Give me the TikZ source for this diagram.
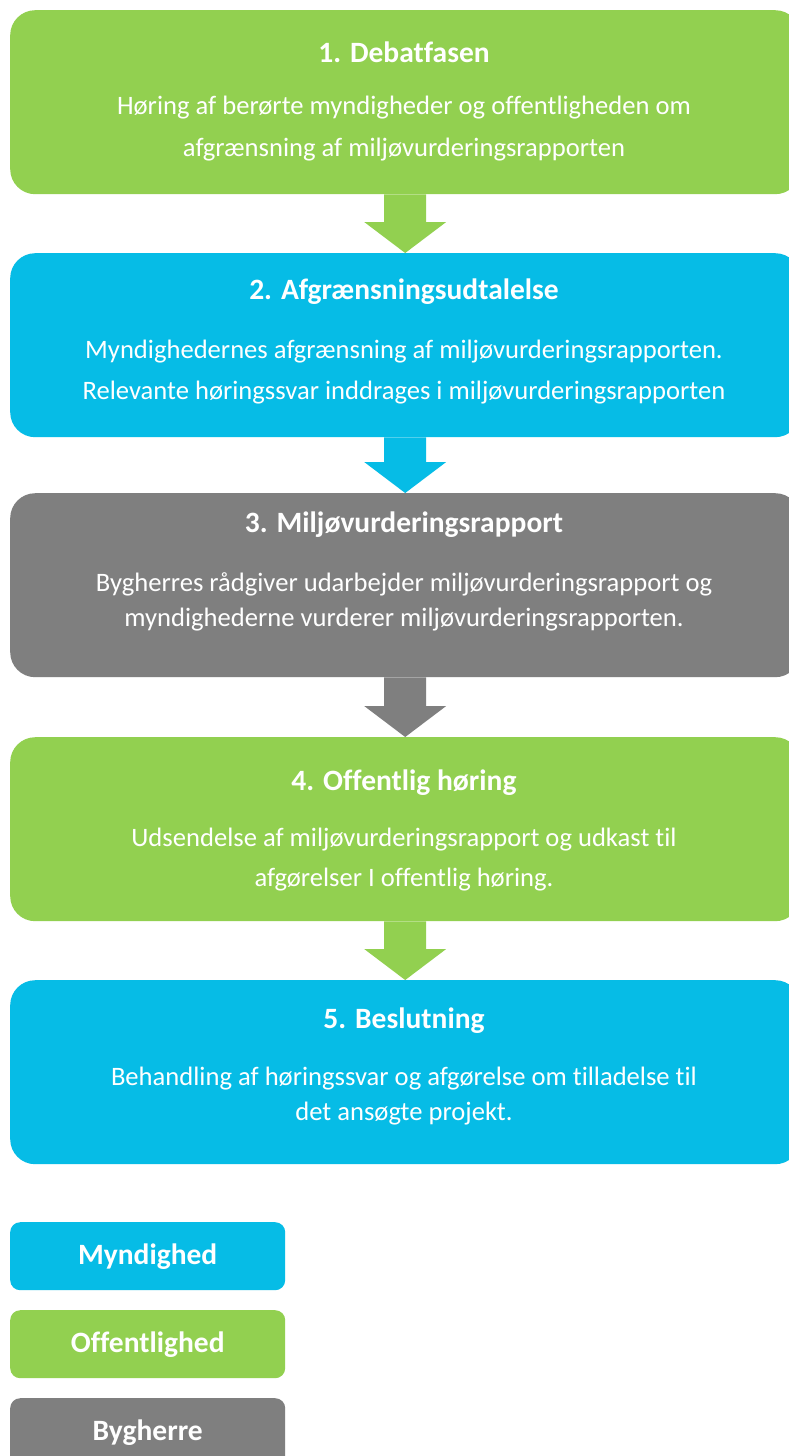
\documentclass[tikz,border=0pt]{standalone}
\usepackage{fontspec}
\setmainfont{Carlito}[Ligatures=NoCommon]
\usetikzlibrary{calc}
\definecolor{grn}{RGB}{146,208,80}
\definecolor{blu}{RGB}{6,188,230}
\definecolor{gry}{RGB}{127,127,127}
\tikzset{
  stage/.style={rectangle, rounded corners=25pt, minimum width=790pt, minimum height=184pt, anchor=north west, inner sep=0pt},
  legendbox/.style={rectangle, rounded corners=10pt, minimum width=275pt, minimum height=68pt, anchor=north west, inner sep=0pt, text=white, font=\bfseries\fontsize{29.5}{34}\selectfont},
  ttl/.style={text=white, font=\bfseries\fontsize{29.5}{34}\selectfont, inner sep=0pt},
  bdy/.style={text=white, font=\fontsize{26.6}{31}\selectfont, inner sep=0pt},
}
\begin{document}
\begin{tikzpicture}[x=1pt,y=1pt]
\useasboundingbox (0,0) rectangle (789,-1456);
\clip (0,0) rectangle (789,-1456);
\fill[white] (0,0) rectangle (789,-1456);
% stages
\node[stage, fill=grn] (b1) at (10,-10) {};
\node[stage, fill=blu] (b2) at (10,-253) {};
\node[stage, fill=gry] (b3) at (10,-493) {};
\node[stage, fill=grn] (b4) at (10,-737) {};
\node[stage, fill=blu] (b5) at (10,-980) {};
% texts
\node[ttl] (t1) at (404,-52) {1. Debatfasen};
\node[bdy] (l1a) at (404,-108) {Høring af berørte myndigheder og offentligheden om};
\node[bdy] (l1b) at (404,-150) {afgrænsning af miljøvurderingsrapporten};
\node[ttl] (t2) at (404,-292) {2. Afgrænsningsudtalelse};
\node[bdy] (l2a) at (404,-352) {Myndighedernes afgrænsning af miljøvurderingsrapporten.};
\node[bdy] (l2b) at (404,-393) {Relevante høringssvar inddrages i miljøvurderingsrapporten};
\node[ttl] (t3) at (404,-525) {3. Miljøvurderingsrapport};
\node[bdy] (l3a) at (404,-584) {Bygherres rådgiver udarbejder miljøvurderingsrapport og};
\node[bdy] (l3b) at (404,-620) {myndighederne vurderer miljøvurderingsrapporten.};
\node[ttl] (t4) at (404,-783) {4. Offentlig høring};
\node[bdy] (l4a) at (404,-840) {Udsendelse af miljøvurderingsrapport og udkast til};
\node[bdy] (l4b) at (404,-880) {afgørelser I offentlig høring.};
\node[ttl] (t5) at (404,-1021) {5. Beslutning};
\node[bdy] (l5a) at (404,-1079) {Behandling af høringssvar og afgørelse om tilladelse til};
\node[bdy] (l5b) at (404,-1114) {det ansøgte projekt.};
% arrows
\foreach \a/\b/\c in {b1/b2/grn, b2/b3/blu, b3/b4/gry, b4/b5/grn}{
  \fill[\c] ([xshift=-21pt]\a.south) -- ([xshift=-21pt,yshift=31pt]\b.north) -- ([xshift=-41pt,yshift=31pt]\b.north) -- (\b.north) -- ([xshift=41pt,yshift=31pt]\b.north) -- ([xshift=21pt,yshift=31pt]\b.north) -- ([xshift=21pt]\a.south) -- cycle;
}
% legend
\node[legendbox, fill=blu] (m) at (10,-1222) {Myndighed};
\node[legendbox, fill=grn] (o) at (10,-1310) {Offentlighed};
\node[legendbox, fill=gry] (g) at (10,-1398) {Bygherre};
\end{tikzpicture}
\end{document}
